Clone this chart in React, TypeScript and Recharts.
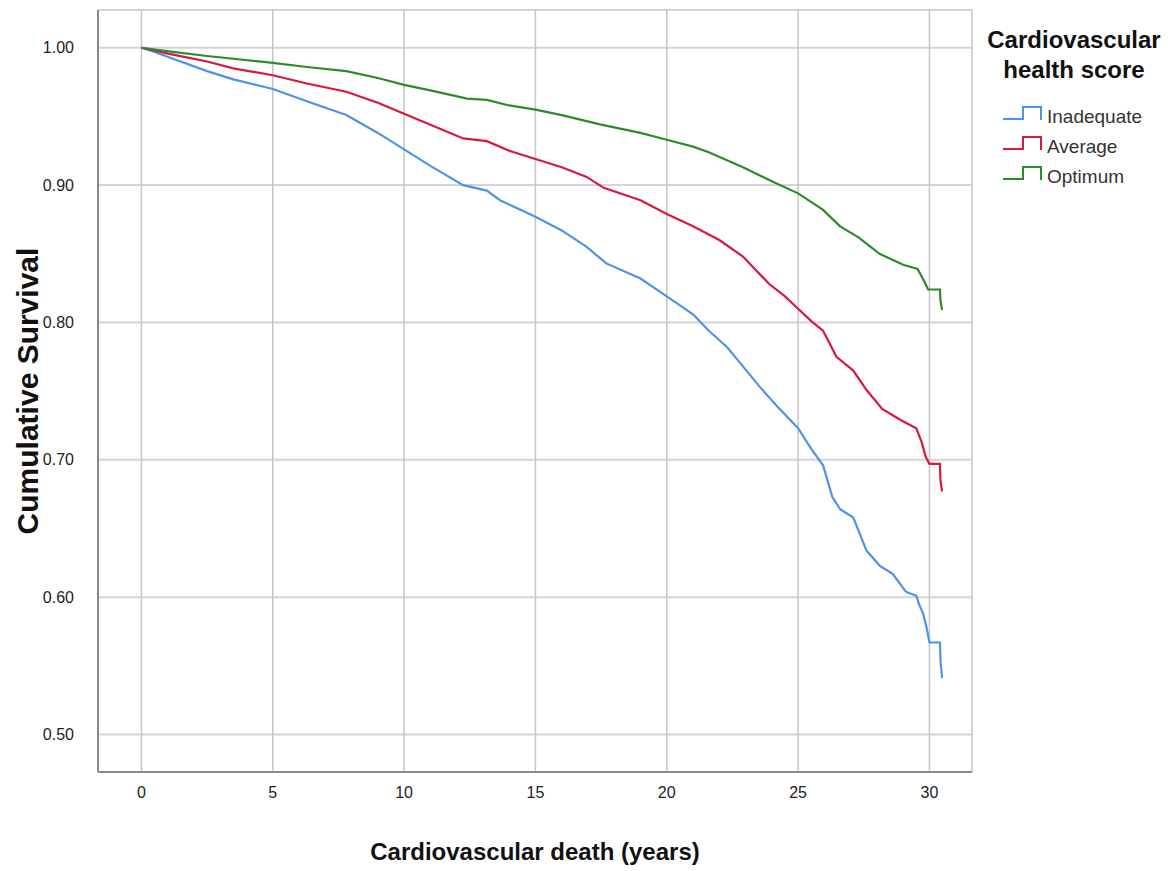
import React from "react";
import {
  CartesianGrid,
  Legend,
  Line,
  LineChart,
  XAxis,
  YAxis
} from "recharts";

// Kaplan-Meier estimates (time in years, cumulative survival)
const inadequateTimes = [
  0, 0.5, 1.2, 2.5, 3.5, 5, 6.3, 7.8, 9, 10, 11, 12.25, 13.15, 13.65, 15, 16,
  16.95, 17.7, 19, 20, 21, 21.6, 22.3, 22.9, 23.5, 24.2, 25, 25.5, 25.95, 26.3,
  26.6, 27.1, 27.6, 28.1, 28.6, 29.1, 29.5, 29.6, 29.76, 29.9, 30.0, 30.4,
  30.42, 30.48
];
const inadequateSurvival = [
  1.0, 0.997, 0.992, 0.983, 0.977, 0.97, 0.961, 0.951, 0.938, 0.926, 0.914,
  0.9, 0.896, 0.889, 0.877, 0.867, 0.855, 0.843, 0.832, 0.819, 0.806, 0.794,
  0.782, 0.768, 0.754, 0.739, 0.723, 0.708, 0.696, 0.673, 0.664, 0.658, 0.634,
  0.623, 0.617, 0.604, 0.601, 0.595, 0.588, 0.577, 0.567, 0.567, 0.554, 0.541
];

const averageTimes = [
  0, 1.2, 2.5, 3.5, 5, 6.3, 7.8, 9, 10, 11, 12.25, 13.15, 14, 15, 16, 16.95,
  17.6, 19, 20, 21, 22, 22.9, 23.9, 24.5, 25, 25.5, 25.95, 26.46, 27.1, 27.6,
  28.2, 28.9, 29.5, 29.7, 29.86, 30.0, 30.4, 30.42, 30.48
];
const averageSurvival = [
  1.0, 0.995, 0.99, 0.985, 0.98, 0.974, 0.968, 0.96, 0.952, 0.944, 0.934,
  0.932, 0.925, 0.919, 0.913, 0.906, 0.898, 0.889, 0.879, 0.87, 0.86, 0.848,
  0.828, 0.819, 0.81, 0.801, 0.794, 0.775, 0.765, 0.751, 0.737, 0.729, 0.723,
  0.713, 0.702, 0.697, 0.697, 0.685, 0.677
];

const optimumTimes = [
  0, 1.2, 2.5, 3.5, 5, 6.3, 7.8, 9, 10, 11, 12.4, 13.15, 14, 15, 16, 17.5, 19,
  20, 21, 21.6, 22.9, 24.2, 25, 25.95, 26.6, 27.3, 28.1, 29, 29.55, 29.8,
  29.95, 30.4, 30.42, 30.48
];
const optimumSurvival = [
  1.0, 0.997, 0.994, 0.992, 0.989, 0.986, 0.983, 0.978, 0.973, 0.969, 0.963,
  0.962, 0.958, 0.955, 0.951, 0.944, 0.938, 0.933, 0.928, 0.924, 0.913, 0.901,
  0.894, 0.882, 0.87, 0.862, 0.85, 0.842, 0.839, 0.83, 0.824, 0.824, 0.816,
  0.809
];

const xTicks = [0, 5, 10, 15, 20, 25, 30];
const yTicks = [0.5, 0.6, 0.7, 0.8, 0.9, 1.0];

const legendTitle = ["Cardiovascular", "health score"];

const series = [
  { name: "Inadequate", color: "#4f93e6", times: inadequateTimes, values: inadequateSurvival },
  { name: "Average", color: "#d9173f", times: averageTimes, values: averageSurvival },
  { name: "Optimum", color: "#2d8b2d", times: optimumTimes, values: optimumSurvival }
];

const toPoints = (times: number[], values: number[]) =>
  times.map((t, i) => ({ t, s: values[i] }));

const FONT = "'Liberation Sans', Arial, sans-serif";

function LegendBox() {
  return (
    <svg width={199} height={200} style={{ display: "block", fontFamily: FONT }}>
      {legendTitle.map((line, i) => (
        <text
          key={line}
          x={99}
          y={48 + i * 30}
          textAnchor="middle"
          fontSize={24}
          fontWeight="bold"
          fill="#111"
        >
          {line}
        </text>
      ))}
      {series.map((s, i) => {
        const base = 123 + i * 30;
        return (
          <g key={s.name}>
            <path
              d={`M28,${base - 4} H48 V${base - 16} H66 V${base - 3}`}
              fill="none"
              stroke={s.color}
              strokeWidth={2}
            />
            <text x={72} y={base} fontSize={19} fill="#333">
              {s.name}
            </text>
          </g>
        );
      })}
    </svg>
  );
}

export default function App() {
  return (
    <div style={{ position: "absolute", left: 0, top: 0, background: "#fff" }}>
      <LineChart
        width={1174}
        height={871}
        margin={{ top: 10, right: 202, bottom: 0, left: 0 }}
        style={{ fontFamily: FONT }}
      >
        <CartesianGrid vertical={false} stroke="#d4d4d4" strokeWidth={2} />
        <CartesianGrid horizontal={false} stroke="#c6c6c6" strokeWidth={1.5} />
        <XAxis
          type="number"
          dataKey="t"
          domain={[-1.653, 31.62]}
          ticks={xTicks}
          allowDataOverflow
          height={99}
          tickLine={false}
          tickSize={0}
          tickMargin={15}
          axisLine={{ stroke: "#8a8a8a", strokeWidth: 2 }}
          tick={{ fill: "#222", fontSize: 16 }}
          label={{
            value: "Cardiovascular death (years)",
            position: "insideBottom",
            offset: 11,
            style: { fontSize: 24, fontWeight: "bold", fill: "#111" }
          }}
        />
        <YAxis
          type="number"
          domain={[0.4727, 1.0275]}
          ticks={yTicks}
          allowDataOverflow
          width={98}
          tickLine={false}
          tickSize={0}
          tickMargin={24}
          tickFormatter={(v: number) => v.toFixed(2)}
          axisLine={{ stroke: "#8a8a8a", strokeWidth: 2 }}
          tick={{ fill: "#222", fontSize: 16 }}
          label={{
            value: "Cumulative Survival",
            angle: -90,
            position: "insideLeft",
            offset: 27,
            style: { fontSize: 30, fontWeight: "bold", fill: "#111", textAnchor: "middle" }
          }}
        />
        <Legend
          layout="horizontal"
          align="center"
          verticalAlign="middle"
          content={() => <LegendBox />}
          wrapperStyle={{ left: 975, top: 0, width: 199 }}
        />
        {series.map((s) => (
          <Line
            key={s.name}
            name={s.name}
            data={toPoints(s.times, s.values)}
            dataKey="s"
            type="linear"
            stroke={s.color}
            strokeWidth={2.2}
            dot={false}
            activeDot={false}
            isAnimationActive={false}
          />
        ))}
      </LineChart>
    </div>
  );
}
